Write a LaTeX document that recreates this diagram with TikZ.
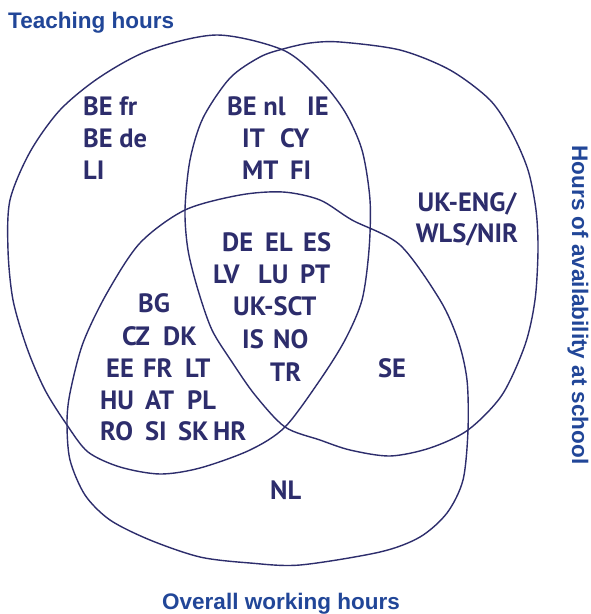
\documentclass[tikz,border=0pt]{standalone}
\usepackage{fontspec}
\newfontfamily\lblfont{PT Sans}
\newfontfamily\ttlfont{Liberation Sans}
\definecolor{navy}{RGB}{45,45,108}
\definecolor{ttlblue}{RGB}{33,70,152}
\begin{document}
\begin{tikzpicture}[x=1pt,y=-1pt,
  setline/.style={draw=navy,line width=1.4pt},
  lbl/.style={inner sep=0pt,anchor=base west,text=navy,font=\lblfont\bfseries\fontsize{26.5}{26.5}\selectfont},
  lblc/.style={lbl,anchor=base},
  ttl/.style={inner sep=0pt,text=ttlblue,font=\ttlfont\bfseries\fontsize{22.5}{22.5}\selectfont}]
\useasboundingbox[fill=white] (0,0) rectangle (590,614);
% Teaching hours
\draw[setline] plot[smooth cycle] coordinates {
(217,35) (283,50) (320,80) (345,112) (362,150) (370,200) (369,250) (362,300)
(345,340) (320,380) (285,427) (250,450) (200,468) (160,474) (120,467) (88,452)
(67,425) (45,390) (27,348) (13,300) (8,250) (10,200) (30,152) (60,110) (100,77) (150,50)};
% Hours of availability
\draw[setline] plot[smooth cycle] coordinates {
(340,42) (400,50) (450,70) (490,100) (512,133) (528,170) (536,210) (538,250)
(535,300) (525,345) (502,395) (468,430) (430,448) (390,456) (350,450) (320,440)
(285,427) (255,395) (232,362) (212,330) (198,290) (188,250) (185,210) (190,160)
(203,118) (230,78) (260,57) (283,49) (310,43)};
% Overall working hours
\draw[setline] plot[smooth cycle] coordinates {
(283,192) (320,200) (352,220) (400,245) (440,300) (458,340) (467,380) (468,430)
(463,480) (447,513) (420,537) (380,552) (300,565) (250,563) (200,557) (150,540)
(110,520) (85,495) (70,460) (67,423) (70,393) (83,343) (107,293) (140,243)
(185,210) (240,195)};
% titles
\node[ttl,anchor=base west] (tteach) at (8,28) {Teaching hours};
\node[ttl,anchor=base] (twork) at (281,609) {Overall working hours};
\node[ttl,anchor=base,rotate=-90] (tavail) at (572,305) {Hours of availability at school};
% labels
\node[lbl] (befr) at (83,106+9) {BE fr};
\node[lbl] (bede) at (83,138+9) {BE de};
\node[lbl] (li) at (83,170+9) {LI};
\node[lbl] (benl) at (227,106+9) {BE nl};
\node[lbl] (ie) at (307,106+9) {IE};
\node[lbl] (it) at (242,138+9) {IT};
\node[lbl] (cy) at (280,138+9) {CY};
\node[lbl] (mt) at (242,170+9) {MT};
\node[lbl] (fi) at (290,170+9) {FI};
\node[lblc] (ukeng) at (467,202+9) {UK-ENG/};
\node[lblc] (wls) at (467,233+9) {WLS/NIR};
\node[lbl] (de) at (222,242+9) {DE};
\node[lbl] (el) at (265,242+9) {EL};
\node[lbl] (es) at (303,242+9) {ES};
\node[lbl] (lv) at (213,274+9) {LV};
\node[lbl] (lu) at (258,274+9) {LU};
\node[lbl] (pt) at (300,274+9) {PT};
\node[lbl] (uksct) at (233,306+9) {UK-SCT};
\node[lbl] (is) at (242,339+9) {IS};
\node[lbl] (no) at (273,339+9) {NO};
\node[lbl] (tr) at (270,372+9) {TR};
\node[lbl] (se) at (378,368+9) {SE};
\node[lbl] (nl) at (270,490+9) {NL};
\node[lbl] (bg) at (138,303+9) {BG};
\node[lbl] (cz) at (122,336+9) {CZ};
\node[lbl] (dk) at (163,336+9) {DK};
\node[lbl] (ee) at (106,368+9) {EE};
\node[lbl] (fr) at (143,368+9) {FR};
\node[lbl] (lt) at (185,368+9) {LT};
\node[lbl] (hu) at (100,400+9) {HU};
\node[lbl] (at) at (145,400+9) {AT};
\node[lbl] (pl) at (187,400+9) {PL};
\node[lbl] (ro) at (100,431+9) {RO};
\node[lbl] (si) at (145,431+9) {SI};
\node[lbl] (sk) at (178,431+9) {SK};
\node[lbl] (hr) at (213,431+9) {HR};
\end{tikzpicture}
\end{document}
